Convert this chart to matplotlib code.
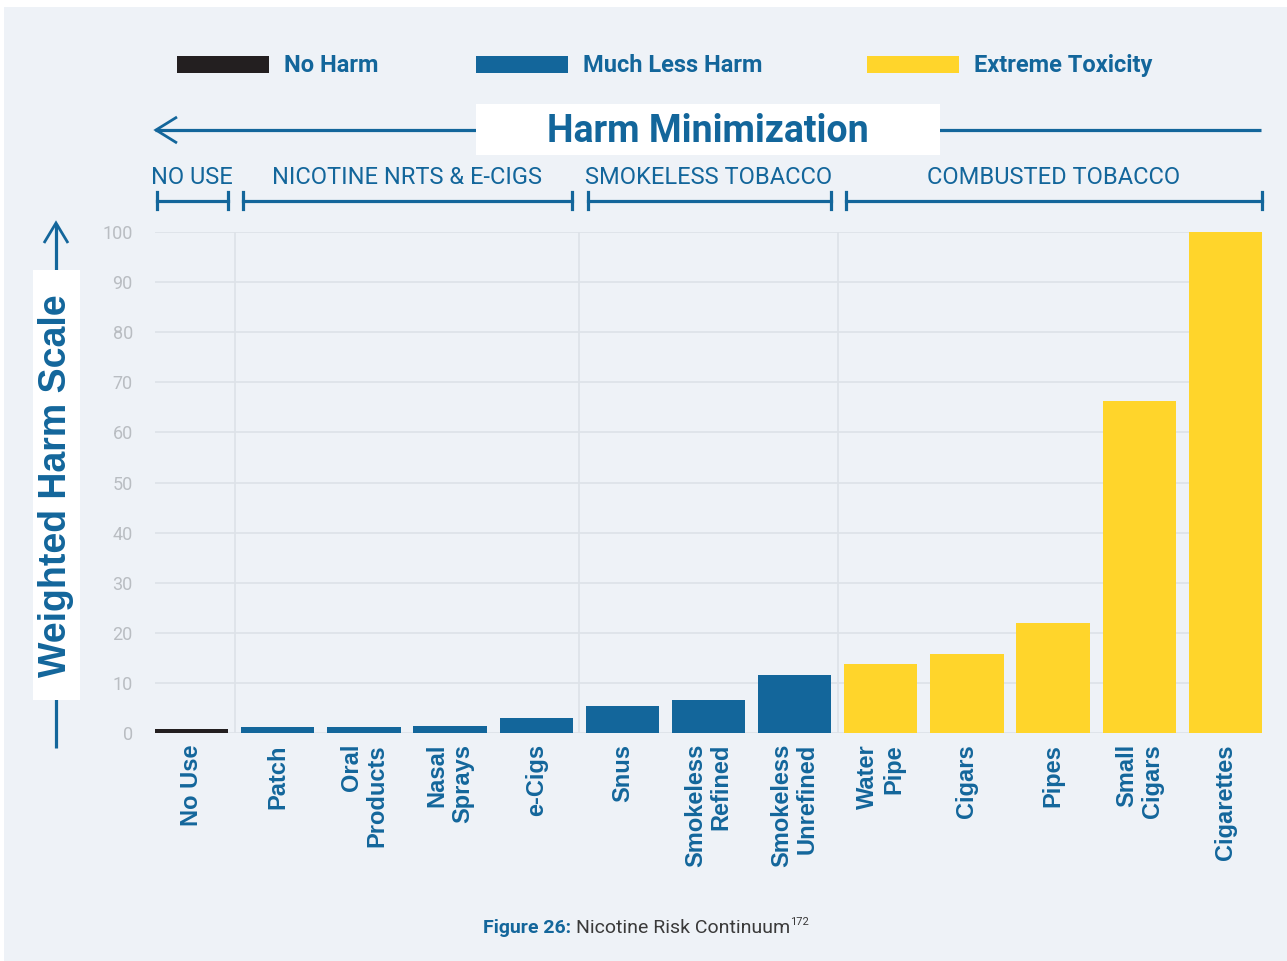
import matplotlib
matplotlib.use("Agg")
import matplotlib.pyplot as plt
from matplotlib.lines import Line2D
from matplotlib.patches import Rectangle
import matplotlib.transforms as mtransforms

W, H = 1287, 961

products = ["No Use", "Patch", "Oral\nProducts", "Nasal\nSprays", "e-Cigs", "Snus",
            "Smokeless\nRefined", "Smokeless\nUnrefined", "Water\nPipe", "Cigars",
            "Pipes", "Small\nCigars", "Cigarettes"]
harm = [0.7, 1.2, 1.2, 1.4, 3.0, 5.4, 6.6, 11.6, 13.8, 15.8, 22.0, 66.3, 100]
harm_level = ["none", "less", "less", "less", "less", "less", "less", "less",
              "extreme", "extreme", "extreme", "extreme", "extreme"]

levels = ["none", "less", "extreme"]
level_names = ["No Harm", "Much Less Harm", "Extreme Toxicity"]
level_colors = {"none": "#231f20", "less": "#13669b", "extreme": "#ffd52b"}

groups = ["NO USE", "NICOTINE NRTS & E-CIGS", "SMOKELESS TOBACCO", "COMBUSTED TOBACCO"]
group_first = [0, 1, 5, 8]
group_last = [0, 4, 7, 12]

yticks = list(range(0, 101, 10))

BLUE = "#13669b"
BG = "#eef2f7"
GRID = "#dde2e8"
HEAD = "Roboto"
BODY = "Liberation Sans"


def px(x, y):
    # pixel position (from top-left) -> figure fraction
    return x / W, 1 - y / H


fig = plt.figure(figsize=(W / 100, H / 100), dpi=100)
fig.patch.set_facecolor("white")

# card background
x0, y0 = px(4, 961)
fig.patches.append(Rectangle((x0, y0), 1 - x0, px(0, 7)[1] - y0,
                             transform=fig.transFigure, facecolor=BG,
                             edgecolor="none", zorder=-5))

l, b = px(155, 733)
r, t = px(1262, 232)
ax = fig.add_axes([l, b, r - l, t - b])
ax.patch.set_alpha(0)

xs = list(range(len(products)))
ax.bar(xs, harm, width=0.85, color=[level_colors[k] for k in harm_level], zorder=3)

ax.set_xlim(-0.425, len(products) - 1 + 0.425)
ax.set_ylim(0, 100)
ax.set_yticks(yticks)
ax.set_yticklabels([str(v) for v in yticks], fontfamily=HEAD, fontsize=13, color="#b9bdc2")
ax.set_xticks(xs)
ax.set_xticklabels(products, rotation=90, ha="center", va="top", multialignment="right",
                   fontfamily=BODY, fontweight="bold", fontsize=17, color=BLUE,
                   linespacing=1.15)
ax.tick_params(axis="y", length=0, pad=16)
ax.tick_params(axis="x", length=0, pad=8)
ax.grid(axis="y", color=GRID, linewidth=1.2, zorder=0)
ax.set_axisbelow(True)
for s in ax.spines.values():
    s.set_visible(False)

# group separators
for f in group_first[1:]:
    ax.axvline(f - 0.5, color=GRID, linewidth=1.2, zorder=1)

# legend
leg_x = [177, 476, 867]
for lx, lev, name in zip(leg_x, levels, level_names):
    rx, ry = px(lx, 73)
    fig.patches.append(Rectangle((rx, ry), 92 / W, 17 / H, transform=fig.transFigure,
                                 facecolor=level_colors[lev], edgecolor="none"))
    tx, ty = px(lx + 107, 72)
    fig.text(tx, ty, name, fontfamily=HEAD, fontweight="bold", fontsize=17,
             color=BLUE, ha="left", va="baseline")


def fig_line(xs_px, ys_px, lw=2.3):
    pts = [px(x, y) for x, y in zip(xs_px, ys_px)]
    fig.lines.append(Line2D([p[0] for p in pts], [p[1] for p in pts],
                            transform=fig.transFigure, color=BLUE, linewidth=lw,
                            solid_capstyle="butt", solid_joinstyle="miter", zorder=2))


# Harm Minimization arrow
fig_line([155, 1261], [130, 130])
fig_line([177, 156, 177], [117, 130, 143], lw=2.0)
bx, by = px(476, 155)
fig.patches.append(Rectangle((bx, by), 464 / W, 51 / H, transform=fig.transFigure,
                             facecolor="white", edgecolor="none", zorder=2.5))
tx, ty = px(708, 132)
fig.text(tx, ty, "Harm Minimization", fontfamily=HEAD, fontweight="bold", fontsize=27,
         color=BLUE, ha="center", va="center", zorder=4)

# group brackets
trans = mtransforms.blended_transform_factory(ax.transData, fig.transFigure)
yl = px(0, 200.5)[1]
ytop = px(0, 192)[1]
ybot = px(0, 209)[1]
ylab = px(0, 178)[1]
for name, f, la in zip(groups, group_first, group_last):
    a, c = f - 0.4, la + 0.42
    if la == len(products) - 1:
        c = la + 0.425
    for xv in (a, c):
        fig.lines.append(Line2D([xv, xv], [ybot, ytop], transform=trans, color=BLUE,
                                linewidth=2.3))
    fig.lines.append(Line2D([a, c], [yl, yl], transform=trans, color=BLUE, linewidth=2.3))
    fig.text((f + la) / 2, ylab, name, transform=trans, fontfamily=HEAD, fontsize=17,
             color=BLUE, ha="center", va="center")

# y axis label with arrow
fig_line([56, 56], [748, 224])
fig_line([44, 56, 68], [243, 223, 243], lw=2.0)
bx, by = px(33, 700)
fig.patches.append(Rectangle((bx, by), 47 / W, 430 / H, transform=fig.transFigure,
                             facecolor="white", edgecolor="none", zorder=2.5))
tx, ty = px(56, 486)
fig.text(tx, ty, "Weighted Harm Scale", rotation=90, fontfamily=BODY, fontweight="bold",
         fontsize=27, color=BLUE, ha="center", va="center", zorder=4)

# caption
renderer = fig.canvas.get_renderer()
cx, cy = px(483, 928)
t1 = fig.text(cx, cy, "Figure 26:", fontfamily=HEAD, fontweight="bold", fontsize=14,
              color=BLUE, ha="left", va="center")
e1 = t1.get_window_extent(renderer)
t2 = fig.text(e1.x1 / W + 5 / W, cy, "Nicotine Risk Continuum", fontfamily=HEAD,
              fontsize=14, color="#3a3a3a", ha="left", va="center")
e2 = t2.get_window_extent(renderer)
fig.text(e2.x1 / W, cy + 6 / H, "172", fontfamily=HEAD, fontsize=8,
         color="#3a3a3a", ha="left", va="center")

fig.savefig("out.png", dpi=100, facecolor=fig.get_facecolor())
